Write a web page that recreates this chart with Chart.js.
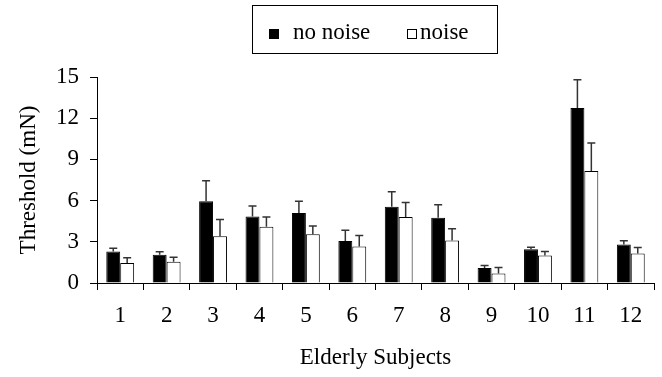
<!DOCTYPE html>
<html>
<head>
<meta charset="utf-8">
<script src="https://cdn.jsdelivr.net/npm/chart.js@4"></script>
<style>
  body { margin: 0; background: #fff; }
  #wrap { position: relative; width: 662px; height: 377px; }
  #legend {
    position: absolute; left: 252px; top: 5px; width: 244px; height: 47px;
    border: 1px solid #000;
    font: 23px "Liberation Serif", serif; color: #000;
  }
  .sw { position: absolute; top: 23px; width: 8px; height: 8px; border: 1px solid #000; }
  .lbl { position: absolute; top: 14px; line-height: 23px; white-space: nowrap; }
</style>
</head>
<body>
<div id="wrap">
  <canvas id="chart" width="662" height="377"></canvas>
  <div id="legend"></div>
</div>
<script>
const subjects = ["1", "2", "3", "4", "5", "6", "7", "8", "9", "10", "11", "12"];
const seriesNames = ["no noise", "noise"];
const noNoise = [2.3, 2.05, 5.95, 4.85, 5.1, 3.05, 5.55, 4.75, 1.1, 2.45, 12.75, 2.8];
const noise = [1.45, 1.55, 3.4, 4.1, 3.55, 2.65, 4.8, 3.1, 0.7, 2.0, 8.15, 2.15];
const noNoiseErr = [0.23, 0.22, 1.5, 0.75, 0.85, 0.8, 1.1, 0.95, 0.17, 0.15, 2.05, 0.27];
const noiseErr = [0.38, 0.33, 1.22, 0.7, 0.6, 0.8, 1.07, 0.85, 0.42, 0.3, 2.05, 0.43];
const yTicks = [0, 3, 6, 9, 12, 15];

Chart.defaults.font.family = '"Liberation Serif", serif';
Chart.defaults.color = "#000";

// upward-only error bars with a cap
const errorBars = {
  id: "errorBars",
  afterDatasetsDraw(chart) {
    const ctx = chart.ctx;
    const y = chart.scales.y;
    chart.data.datasets.forEach((ds, i) => {
      const meta = chart.getDatasetMeta(i);
      meta.data.forEach((bar, j) => {
        const top = y.getPixelForValue(ds.data[j] + ds.errors[j]);
        ctx.save();
        ctx.strokeStyle = "#333";
        ctx.lineWidth = 1.5;
        ctx.beginPath();
        ctx.moveTo(bar.x, bar.y);
        ctx.lineTo(bar.x, top);
        ctx.moveTo(bar.x - 4, top);
        ctx.lineTo(bar.x + 4, top);
        ctx.stroke();
        ctx.restore();
      });
    });
  },
};

const chart = new Chart(document.getElementById("chart"), {
  type: "bar",
  data: {
    labels: subjects,
    datasets: [
      {
        label: seriesNames[0],
        data: noNoise,
        errors: noNoiseErr,
        backgroundColor: "#000",
        borderColor: "#000",
        borderWidth: 1,
      },
      {
        label: seriesNames[1],
        data: noise,
        errors: noiseErr,
        backgroundColor: "#fff",
        borderColor: "#000",
        borderWidth: 1,
      },
    ],
  },
  options: {
    responsive: false,
    animation: false,
    layout: { padding: { top: 77, right: 8, left: 0, bottom: 0 } },
    plugins: {
      legend: { display: false },
      tooltip: { enabled: false },
    },
    datasets: {
      bar: { categoryPercentage: 0.6, barPercentage: 1.0 },
    },
    scales: {
      x: {
        afterFit: (scale) => {
          scale.height = 94;
        },
        grid: {
          offset: true,
          drawOnChartArea: false,
          drawTicks: true,
          tickLength: 7,
          color: "#000",
        },
        border: { color: "#000", width: 1 },
        ticks: { font: { size: 23 }, padding: 12, maxRotation: 0 },
        title: {
          display: true,
          text: "Elderly Subjects",
          font: { size: 23 },
          padding: { top: 4, bottom: 5 },
        },
      },
      y: {
        min: 0,
        max: 15,
        afterBuildTicks: (scale) => {
          scale.ticks = yTicks.map((v) => ({ value: v }));
        },
        afterFit: (scale) => {
          scale.width = 97;
        },
        grid: {
          drawOnChartArea: false,
          drawTicks: true,
          tickLength: 7,
          color: "#000",
        },
        border: { color: "#000", width: 1 },
        ticks: { font: { size: 23 }, padding: 11 },
        title: {
          display: true,
          text: "Threshold (mN)",
          font: { size: 23 },
          padding: { top: 15, bottom: 0 },
        },
      },
    },
  },
  plugins: [errorBars],
});

// framed legend, as in the original figure
const legend = document.getElementById("legend");
const swatchLeft = [16, 154];
const labelLeft = [40, 167];
chart.data.datasets.forEach((ds, i) => {
  const sw = document.createElement("span");
  sw.className = "sw";
  sw.style.left = swatchLeft[i] + "px";
  sw.style.background = ds.backgroundColor;
  const txt = document.createElement("span");
  txt.className = "lbl";
  txt.style.left = labelLeft[i] + "px";
  txt.textContent = ds.label;
  legend.appendChild(sw);
  legend.appendChild(txt);
});
</script>
</body>
</html>
